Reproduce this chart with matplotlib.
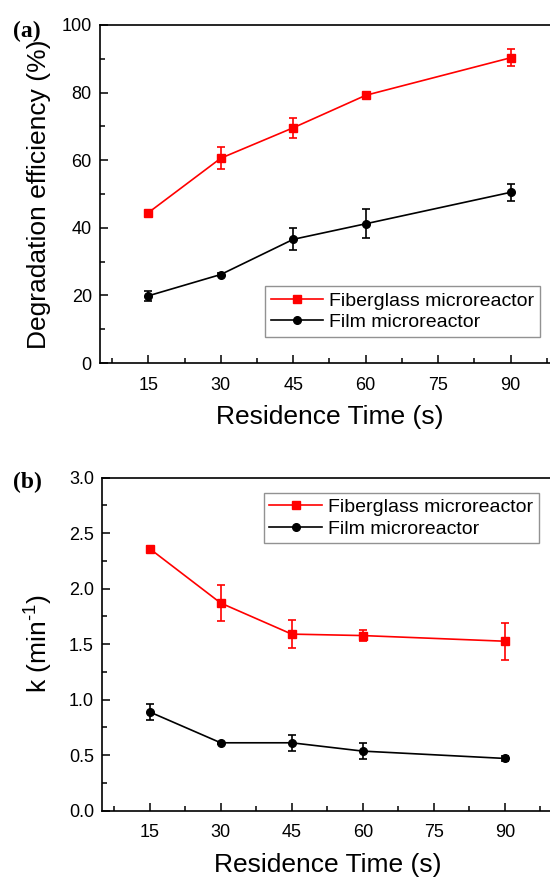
import matplotlib.pyplot as plt
from matplotlib.ticker import MultipleLocator

# --- data ---
times = [15, 30, 45, 60, 90]

# (a) degradation efficiency (%)
eff_fiber = [44.5, 60.6, 69.6, 79.2, 90.3]
eff_fiber_err = [0.6, 3.3, 2.9, 0.8, 2.5]
eff_film = [19.9, 26.2, 36.6, 41.2, 50.5]
eff_film_err = [1.5, 0.5, 3.3, 4.3, 2.6]

# (b) rate constant k (min^-1)
k_fiber = [2.36, 1.87, 1.59, 1.577, 1.526]
k_fiber_err = [0.02, 0.165, 0.125, 0.05, 0.165]
k_film = [0.889, 0.611, 0.611, 0.536, 0.47]
k_film_err = [0.075, 0.01, 0.07, 0.072, 0.025]

labels = ['Fiberglass microreactor', 'Film microreactor']

plt.rcParams['font.family'] = ['Liberation Sans', 'DejaVu Sans']
plt.rcParams['mathtext.fontset'] = 'custom'
plt.rcParams['mathtext.rm'] = 'Liberation Sans'

fig = plt.figure(figsize=(5.5, 8.77), dpi=100)
ax_a = fig.add_axes([0.182, 0.586, 0.834, 0.3855])
ax_b = fig.add_axes([0.186, 0.0757, 0.818, 0.3797])


def series(ax, y, err, color, marker):
    c = ax.errorbar(times, y, yerr=err, color=color, marker=marker, markersize=5.5,
                    linewidth=1.2, elinewidth=1.2, capsize=3, capthick=1.2)
    return c[0]


def style(ax, handles, loc, anchor):
    ax.set_xlim(5, 100)
    ax.xaxis.set_major_locator(MultipleLocator(15))
    ax.xaxis.set_minor_locator(MultipleLocator(7.5))
    ax.tick_params(which='both', direction='in', top=False, right=False,
                   labelsize=13, width=1.1)
    ax.tick_params(which='major', length=6)
    ax.tick_params(which='minor', length=3.5)
    ax.tick_params(axis='x', pad=10)
    ax.tick_params(axis='y', pad=6)
    for s in ax.spines.values():
        s.set_linewidth(1.2)
    ax.spines['right'].set_visible(False)
    ax.set_xlabel('Residence Time (s)', fontsize=19, labelpad=8)
    leg = ax.legend(handles, labels, loc=loc, bbox_to_anchor=anchor, borderaxespad=0,
                    fontsize=14, handlelength=2.7, frameon=True, fancybox=False,
                    borderpad=0.3, labelspacing=0.2, handletextpad=0.3)
    leg.get_frame().set_edgecolor('#777777')
    leg.get_frame().set_linewidth(1.0)


# --- (a) ---
h1 = series(ax_a, eff_fiber, eff_fiber_err, 'red', 's')
h2 = series(ax_a, eff_film, eff_film_err, 'black', 'o')
ax_a.set_ylim(0, 100)
ax_a.yaxis.set_major_locator(MultipleLocator(20))
ax_a.yaxis.set_minor_locator(MultipleLocator(10))
ax_a.set_ylabel('Degradation efficiency (%)', fontsize=19)
ax_a.yaxis.set_label_coords(-0.108, 0.5)
style(ax_a, [h1, h2], 'lower right', (0.959, 0.077))
fig.text(0.024, 0.958, '(a)', fontsize=17, fontweight='bold', family='Liberation Serif')

# --- (b) ---
h1 = series(ax_b, k_fiber, k_fiber_err, 'red', 's')
h2 = series(ax_b, k_film, k_film_err, 'black', 'o')
ax_b.set_ylim(0, 3.0)
ax_b.yaxis.set_major_locator(MultipleLocator(0.5))
ax_b.yaxis.set_minor_locator(MultipleLocator(0.25))
ax_b.yaxis.set_major_formatter(lambda v, p: f'{v:.1f}')
ax_b.set_ylabel('k (min$^{\\text{-1}}$)', fontsize=19)
ax_b.yaxis.set_label_coords(-0.108, 0.5)
style(ax_b, [h1, h2], 'upper right', (0.97, 0.955))
fig.text(0.024, 0.443, '(b)', fontsize=17, fontweight='bold', family='Liberation Serif')

fig.savefig('out.png', dpi=100)
